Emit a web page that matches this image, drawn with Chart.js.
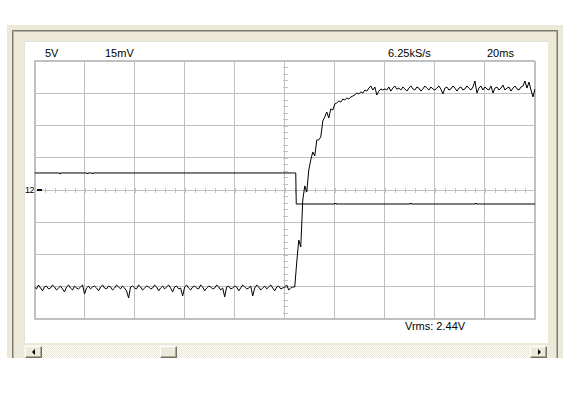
<!DOCTYPE html>
<html>
<head>
<meta charset="utf-8">
<script src="https://cdn.jsdelivr.net/npm/chart.js@4.4.1/dist/chart.umd.min.js"></script>
<style>
  html,body{margin:0;padding:0;background:#fff;width:585px;height:395px;overflow:hidden;}
  .abs{position:absolute;}
  .lbl{position:absolute;font-family:"Liberation Sans",Arial,sans-serif;font-size:11px;line-height:11px;color:#000;white-space:nowrap;}
  #outer{left:7px;top:25px;width:556px;height:333px;background:#ECE9D8;overflow:hidden;}
  #edge{left:12px;top:30px;width:546px;height:328px;box-sizing:border-box;border-left:1px solid #7d7b70;border-top:1px solid #7d7b70;border-right:1px solid #7d7b70;box-shadow:inset 1px 1px 0 #b5b2a4, inset -1px 0 0 #b5b2a4;}
  #panel{left:24px;top:41px;width:524px;height:302px;background:#fff;box-sizing:border-box;border-left:1px solid #e4e2d8;border-top:1px solid #e4e2d8;}
  #track{left:24px;top:345px;width:524px;height:13px;background-color:#f6f5f0;
    background-image:repeating-conic-gradient(#ECE9D8 0% 25%, #fbfbf8 0% 50%);background-size:2px 2px;}
  .btn{position:absolute;top:346px;width:17px;height:12px;box-sizing:border-box;background:#ECE9D8;
    border-left:1px solid #fff;border-top:1px solid #fff;border-right:1px solid #716F64;border-bottom:1px solid #716F64;box-shadow:inset -1px -1px 0 #ACA899;}
  .tri{position:absolute;top:2px;width:0;height:0;border-top:3px solid transparent;border-bottom:3px solid transparent;}
  #cv{position:absolute;left:0;top:0;}
</style>
</head>
<body>
<div id="outer" class="abs"></div>
<div id="edge" class="abs"></div>
<div id="panel" class="abs"></div>
<div id="track" class="abs"></div>
<div class="btn" style="left:25px"><div class="tri" style="left:6px;border-right:3px solid #000;"></div></div>
<div class="btn" style="left:160px"></div>
<div class="btn" style="left:530px"><div class="tri" style="left:7px;border-left:3px solid #000;"></div></div>

<div class="lbl" style="left:45px;top:48px">5V</div>
<div class="lbl" style="left:105px;top:48px">15mV</div>
<div class="lbl" style="left:388px;top:48px">6.25kS/s</div>
<div class="lbl" style="left:487px;top:48px">20ms</div>
<div class="lbl" style="left:405px;top:321px">Vrms: 2.44V</div>
<div class="lbl" style="left:25px;top:186px;font-size:9px;line-height:9px;letter-spacing:-0.5px">12</div>

<canvas id="cv" width="585" height="395"></canvas>
<script>
// ---- Data ----
// Channel A (5 V/div): break-points of the square step, time in ms, value in V
const aTime  = [0, 10.0, 10.2, 10.4, 21.0, 21.2, 21.4, 23.0, 23.2, 23.4, 104.4, 104.6, 120.0, 120.2, 120.4, 150.0, 150.2, 150.4, 176.0, 176.2, 176.4, 200];
const aValue = [2.64, 2.64, 2.48, 2.64, 2.64, 2.48, 2.64, 2.64, 2.48, 2.64, 2.64, -2.17, -2.17, -2.02, -2.17, -2.17, -2.02, -2.17, -2.17, -2.02, -2.17, -2.17];

// Channel B (15 mV/div): decimated samples, one every 0.8 ms (6.25 kS/s / 5), value in mV
const bSampleMs = 0.8;
const bValue = [
 -45.1,-46.0,-44.2,-45.6,-46.9,-45.1,-44.7,-46.0,-45.6,-44.2,
 -45.1,-46.5,-45.6,-44.7,-46.0,-47.4,-45.1,-44.2,-45.6,-46.5,
 -44.7,-45.6,-46.0,-45.1,-44.2,-48.4,-45.6,-44.7,-46.0,-45.1,
 -44.7,-45.6,-46.9,-45.1,-44.2,-45.6,-46.0,-44.7,-45.1,-46.5,
 -45.6,-44.2,-45.1,-46.0,-44.7,-45.6,-46.9,-50.2,-45.1,-44.7,
 -45.6,-46.0,-44.2,-45.1,-46.5,-45.6,-44.7,-45.1,-46.0,-45.6,
 -44.2,-45.1,-46.9,-45.6,-44.7,-46.0,-45.1,-44.2,-45.6,-47.4,
 -45.1,-44.7,-46.0,-45.6,-49.3,-45.1,-44.2,-45.6,-46.5,-45.1,
 -44.7,-45.6,-46.0,-44.2,-45.1,-46.9,-45.6,-44.7,-45.1,-46.0,
 -45.6,-44.2,-45.1,-46.5,-45.6,-49.7,-45.1,-44.7,-46.0,-45.6,
 -44.7,-45.1,-46.9,-45.6,-44.2,-45.1,-46.0,-45.6,-44.7,-49.3,
 -45.6,-44.2,-45.1,-46.5,-45.6,-44.7,-46.0,-45.1,-44.2,-45.6,
 -46.9,-45.1,-44.7,-46.0,-45.6,-45.1,-44.2,-46.5,-45.6,-45.1,
 -45.1,
 -33.5,-23.3,-26.5,-4.7,1.9,-0.9,9.3,14.0,17.7,15.8,
 23.3,23.3,24.7,32.1,34.0,36.3,33.5,37.7,37.2,40.0,
 40.5,41.4,40.9,42.3,41.9,42.8,42.3,43.3,43.7,44.2,
 45.1,44.7,45.6,45.1,46.5,46.0,47.4,48.4,46.5,47.9,
 44.2,46.0,47.0,46.5,
 47.0,46.5,47.9,46.0,47.4,48.4,46.9,47.4,46.5,47.9,
 47.0,46.0,47.4,48.4,47.0,46.5,47.9,47.4,46.0,47.0,
 48.4,47.4,46.5,47.9,47.0,46.5,47.4,48.4,46.9,44.7,
 47.4,47.9,46.5,47.0,48.4,47.4,46.0,47.4,47.9,46.5,
 47.0,48.4,47.4,46.5,47.9,50.7,45.1,47.4,48.4,46.5,
 47.9,47.0,46.5,48.4,45.1,47.4,47.9,46.5,47.4,48.8,
 46.5,47.4,47.9,46.0,47.4,48.4,47.0,46.5,47.9,48.4,
 50.7,47.4,50.2,46.5,43.3,47.0
];

// Screen settings (labels shown on the display)
const timePerDivMs = 20, voltsPerDivA = 5, mvPerDivB = 15, divsX = 10, divsY = 8;

const dataA = aTime.map((t, i) => ({x: t, y: aValue[i]}));
const dataB = bValue.map((v, i) => ({x: i * bSampleMs, y: v}));

const GRID = '#c0c0c0';
const scopeDecor = {
  id: 'scopeDecor',
  beforeDatasetsDraw(chart) {
    const {ctx, scales: {x, yA}} = chart;
    const xc = x.getPixelForValue(timePerDivMs * divsX / 2);
    const yc = yA.getPixelForValue(0);
    ctx.save();
    ctx.strokeStyle = GRID; ctx.lineWidth = 1;
    ctx.beginPath();
    const stepX = timePerDivMs / 5;
    for (let t = 0; t <= timePerDivMs * divsX; t += stepX) {
      const px = Math.round(x.getPixelForValue(t)) + 0.5;
      ctx.moveTo(px, Math.round(yc) - 2); ctx.lineTo(px, Math.round(yc) + 3);
    }
    const stepY = voltsPerDivA / 5;
    const half = voltsPerDivA * divsY / 2;
    for (let v = -half; v <= half; v += stepY) {
      const py = Math.round(yA.getPixelForValue(v)) + 0.5;
      ctx.moveTo(Math.round(xc) - 2, py); ctx.lineTo(Math.round(xc) + 3, py);
    }
    ctx.stroke();
    ctx.restore();
  },
  afterDatasetsDraw(chart) {
    const {ctx, chartArea, scales: {yA}} = chart;
    const yc = Math.round(yA.getPixelForValue(0));
    ctx.save();
    ctx.fillStyle = '#000';
    ctx.fillRect(Math.round(chartArea.left) + 2, yc - 1, 5, 2);
    ctx.restore();
  }
};

new Chart(document.getElementById('cv'), {
  type: 'line',
  data: {
    datasets: [
      {label: 'A', data: dataA, yAxisID: 'yA', borderColor: '#000', borderWidth: 1, pointRadius: 0, tension: 0, fill: false},
      {label: 'B', data: dataB, yAxisID: 'yB', borderColor: '#000', borderWidth: 1, pointRadius: 0, tension: 0, fill: false}
    ]
  },
  options: {
    responsive: false,
    animation: false,
    events: [],
    layout: {padding: {left: 34.5, top: 61, right: 50, bottom: 76}},
    plugins: {legend: {display: false}, tooltip: {enabled: false}},
    scales: {
      x: {
        type: 'linear', min: 0, max: timePerDivMs * divsX,
        ticks: {display: false, stepSize: timePerDivMs},
        grid: {color: GRID, drawTicks: false, lineWidth: c => (c.index === 0 || c.index === divsX) ? 2 : 1},
        border: {display: true, color: GRID, width: 2}
      },
      yA: {
        type: 'linear', position: 'left',
        min: -voltsPerDivA * divsY / 2, max: voltsPerDivA * divsY / 2,
        ticks: {display: false, stepSize: voltsPerDivA},
        grid: {color: GRID, drawTicks: false, lineWidth: c => (c.index === 0 || c.index === divsY) ? 2 : 1},
        border: {display: true, color: GRID, width: 2}
      },
      yB: {
        type: 'linear', position: 'right', display: false,
        min: -mvPerDivB * divsY / 2, max: mvPerDivB * divsY / 2
      }
    }
  },
  plugins: [scopeDecor]
});
</script>
</body>
</html>
